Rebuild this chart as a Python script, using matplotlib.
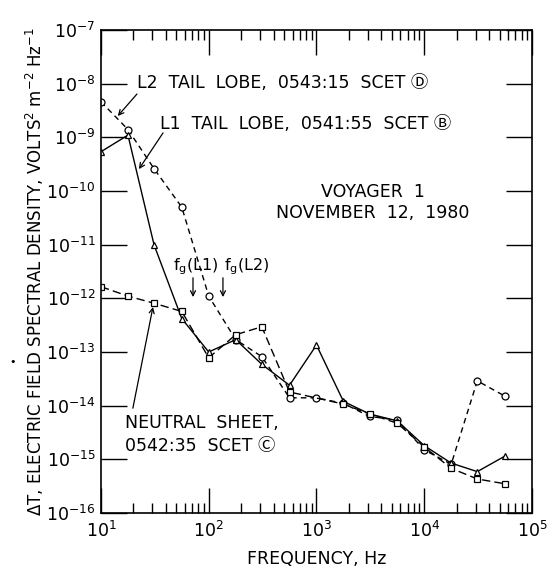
import numpy as np
import matplotlib
matplotlib.use("Agg")
import matplotlib.pyplot as plt
from matplotlib.ticker import LogLocator, LogFormatterMathtext, NullLocator

# DejaVu first, CJK font behind it for the circled letters
plt.rcParams["font.family"] = ["DejaVu Sans", "Noto Sans CJK JP"]

# PWS spectrum analyzer channel frequencies, Hz
freq = [10, 17.8, 31.1, 56.2, 100, 178, 311, 562, 1000,
        1780, 3110, 5620, 10000, 17800, 31100, 56200]

# L2 tail lobe, 0543:15 SCET (D) - circles
l2_tail = [4.6e-9, 1.4e-9, 2.6e-10, 5.0e-11, 1.1e-12, 1.7e-13, 8.2e-14, 1.4e-14,
           1.4e-14, 1.1e-14, 6.3e-15, 5.4e-15, 1.5e-15, 8.1e-16, 2.9e-14, 1.5e-14]

# L1 tail lobe, 0541:55 SCET (B) - triangles
l1_tail = [5.4e-10, 1.1e-9, 9.9e-12, 4.2e-13, 1.0e-13, 1.7e-13, 5.9e-14, 2.4e-14,
           1.35e-13, 1.2e-14, 7.0e-15, 5.2e-15, 1.8e-15, 8.5e-16, 5.9e-16, 1.15e-15]

# neutral sheet, 0542:35 SCET (C) - squares, no 1 kHz point
ns_freq = [10, 17.8, 31.1, 56.2, 100, 178, 311, 562,
           1780, 3110, 5620, 10000, 17800, 31100, 56200]
neutral = [1.65e-12, 1.1e-12, 8.1e-13, 5.7e-13, 7.8e-14, 2.1e-13, 2.95e-13, 1.8e-14,
           1.07e-14, 7.0e-15, 4.7e-15, 1.7e-15, 6.8e-16, 4.3e-16, 3.5e-16]

FS = 12.5

fig = plt.figure(figsize=(5.5, 5.74), dpi=100)
ax = fig.add_axes([0.1836, 0.1063, 0.7836, 0.8414])

mk = dict(markersize=5, markerfacecolor="white", markeredgecolor="black",
          markeredgewidth=0.9, color="black", lw=1.0)
ax.plot(freq, l2_tail, marker="o", linestyle=(0, (4, 3)), **mk)
ax.plot(freq, l1_tail, marker="^", linestyle="-", **mk)
ax.plot(ns_freq, neutral, marker="s", linestyle=(0, (6, 3)), **mk)

ax.set_xscale("log")
ax.set_yscale("log")
ax.set_xlim(10, 1e5)
ax.set_ylim(1e-16, 1e-7)

ax.xaxis.set_major_locator(LogLocator(base=10, numticks=10))
ax.xaxis.set_minor_locator(LogLocator(base=10, subs=np.arange(2, 10), numticks=10))
ax.xaxis.set_major_formatter(LogFormatterMathtext())
ax.yaxis.set_major_locator(LogLocator(base=10, numticks=12))
ax.yaxis.set_minor_locator(NullLocator())
ax.yaxis.set_major_formatter(LogFormatterMathtext())

ax.tick_params(axis="both", which="both", direction="in", top=True, right=True,
               width=1.0, labelsize=FS)
ax.tick_params(axis="x", which="major", length=18, pad=6)
ax.tick_params(axis="x", which="minor", length=7)
ax.tick_params(axis="y", which="major", length=19, pad=4)
for s in ax.spines.values():
    s.set_linewidth(1.2)

ax.set_xlabel("FREQUENCY, Hz", fontsize=FS, labelpad=6)
ax.set_ylabel(r"ΔT, ELECTRIC FIELD SPECTRAL DENSITY, VOLTS$^2$ m$^{-2}$ Hz$^{-1}$",
              fontsize=12, labelpad=0)

tr = ax.transAxes
arrow = dict(arrowstyle="->", lw=0.9, color="black", shrinkA=0, shrinkB=0,
             mutation_scale=9)

# curve labels with pointer arrows
ax.text(0.0835, 0.890, "L2  TAIL  LOBE,  0543:15  SCET Ⓓ", transform=tr,
        fontsize=FS, va="center", ha="left")
ax.annotate("", xy=(0.039, 0.822), xytext=(0.0835, 0.8675),
            xycoords=tr, textcoords=tr, arrowprops=arrow)

ax.text(0.137, 0.805, "L1  TAIL  LOBE,  0541:55  SCET Ⓑ", transform=tr,
        fontsize=FS, va="center", ha="left")
ax.annotate("", xy=(0.088, 0.712), xytext=(0.144, 0.787),
            xycoords=tr, textcoords=tr, arrowprops=arrow)

ax.text(0.631, 0.665, "VOYAGER  1", transform=tr, fontsize=FS,
        va="center", ha="center")
ax.text(0.631, 0.621, "NOVEMBER  12,  1980", transform=tr, fontsize=FS,
        va="center", ha="center")

# gyrofrequency markers
ax.text(0.167, 0.509, r"f$_{\mathregular{g}}$(L1)", transform=tr, fontsize=11.5,
        va="center", ha="left")
ax.text(0.2854, 0.509, r"f$_{\mathregular{g}}$(L2)", transform=tr, fontsize=11.5,
        va="center", ha="left")
ax.annotate("", xy=(0.2135, 0.447), xytext=(0.2135, 0.487),
            xycoords=tr, textcoords=tr, arrowprops=arrow)
ax.annotate("", xy=(0.2830, 0.447), xytext=(0.2830, 0.487),
            xycoords=tr, textcoords=tr, arrowprops=arrow)

ax.text(0.0557, 0.186, "NEUTRAL  SHEET,", transform=tr, fontsize=FS,
        va="center", ha="left")
ax.text(0.0557, 0.139, "0542:35  SCET Ⓒ", transform=tr, fontsize=FS,
        va="center", ha="left")
ax.annotate("", xy=(0.1206, 0.4265), xytext=(0.074, 0.217),
            xycoords=tr, textcoords=tr, arrowprops=arrow)

fig.text(13 / 550, 1 - 362 / 574, "•", fontsize=8, ha="center", va="center")

fig.savefig("out.png", dpi=100)
